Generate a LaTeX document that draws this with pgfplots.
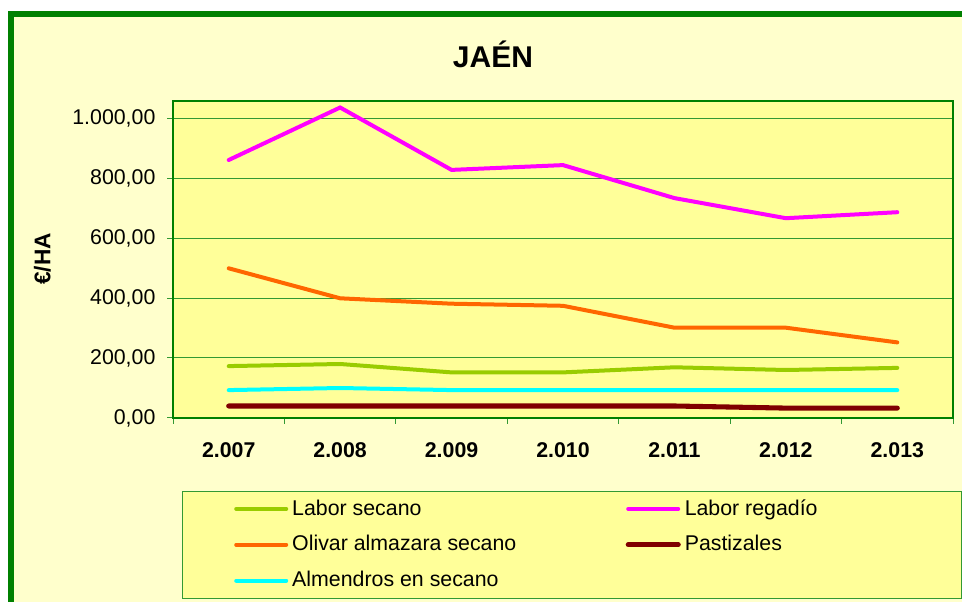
\documentclass[border=0pt]{standalone}
\usepackage{pgfplots}
\pgfplotsset{compat=1.18}
\usepackage{fontspec}
\setmainfont{Liberation Sans}
\definecolor{bgout}{HTML}{FFFFCC}
\definecolor{bgplot}{HTML}{FFFF99}
\definecolor{framec}{HTML}{008000}
\definecolor{gridg}{HTML}{339933}
\definecolor{csecano}{HTML}{99CC00}
\definecolor{cregadio}{HTML}{FF00FF}
\definecolor{colivar}{HTML}{FF6600}
\definecolor{cpast}{HTML}{800000}
\definecolor{calm}{HTML}{00FFFF}
\begin{document}
\begin{tikzpicture}
\useasboundingbox (0pt,0pt) rectangle (721.5pt,451.5pt);
\begin{scope}[x=0.75pt,y=0.75pt]
\begin{scope}
\clip (0,0) rectangle (962,602);
\fill[white] (0,0) rectangle (962,602);
\draw[framec, line width=4.5pt, fill=bgout] (11,-30) rectangle (1000,588);
\end{scope}
\node[font=\bfseries\fontsize{22.5}{27}\selectfont] at (493,548) {JAÉN};
\node[font=\bfseries\fontsize{17}{20}\selectfont, rotate=90] at (42.5,343) {€/HA};
\end{scope}
\begin{axis}[
  at={(129.75pt,138pt)}, anchor=south west,
  scale only axis, width=585pt, height=237.75pt,
  xmin=-0.5, xmax=6.5, ymin=0, ymax=1056.7,
  axis background/.style={fill=bgplot},
  axis line style={framec, line width=1.1pt},
  ytick={0,200,400,600,800,1000},
  yticklabels={{0,00},{200,00},{400,00},{600,00},{800,00},{1.000,00}},
  ymajorgrids, grid style={gridg, line width=0.75pt},
  xtick={-0.5,0.5,1.5,2.5,3.5,4.5,5.5,6.5}, xticklabels={},
  extra x ticks={0,1,2,3,4,5,6},
  extra x tick labels={2.007,2.008,2.009,2.010,2.011,2.012,2.013},
  extra x tick style={major tick length=0pt, grid=none,
     tick label style={font=\bfseries\fontsize{16}{19}\selectfont, anchor=north, inner sep=0pt, yshift=-18.5pt}},
  tick align=outside, major tick length=4.5pt, tick pos=left,
  tick style={gridg, line width=0.75pt},
  yticklabel style={font=\fontsize{16}{19}\selectfont, anchor=east, inner sep=0pt, xshift=-8.5pt},
  legend columns=2,
  legend style={at={(0.0112,-0.230)}, anchor=north west,
     fill=bgplot, draw=gridg, line width=0.75pt,
     inner xsep=0pt, inner ysep=1.875pt, row sep=4.35pt, column sep=0pt,
     font=\fontsize{16}{19}\selectfont,
     nodes={inner sep=0pt, text height=15.85pt, text depth=6.65pt},
     /tikz/every odd column/.append style={column sep=3pt},
     /tikz/every even column/.append style={column sep=0pt}},
  legend image code/.code={\path[draw=none] (-40.5pt,0pt) -- (0pt,0pt); \draw[#1, line cap=round] (0pt,0pt) -- (37.5pt,0pt);},
]
\addplot[csecano, line width=3pt, line cap=round] coordinates {(0,173) (1,180) (2,152) (3,152) (4,169) (5,160) (6,167)};
\addlegendentry{\makebox[211.5pt][l]{Labor secano}}
\addplot[cregadio, line width=3pt, line cap=round] coordinates {(0,860) (1,1035) (2,827) (3,843) (4,733) (5,666) (6,686)};
\addlegendentry{\makebox[207.75pt][l]{Labor regadío}}
\addplot[colivar, line width=3pt, line cap=round] coordinates {(0,499) (1,399) (2,381) (3,374) (4,301) (5,301) (6,252)};
\addlegendentry{\makebox[211.5pt][l]{Olivar almazara secano}}
\addplot[cpast, line width=3.8pt, line cap=round] coordinates {(0,40) (1,40) (2,40) (3,40) (4,40) (5,33) (6,33)};
\addlegendentry{\makebox[207.75pt][l]{Pastizales}}
\addplot[calm, line width=3pt, line cap=round] coordinates {(0,93) (1,100) (2,93) (3,93) (4,93) (5,93) (6,93)};
\addlegendentry{\makebox[211.5pt][l]{Almendros en secano}}
\end{axis}
\end{tikzpicture}
\end{document}
